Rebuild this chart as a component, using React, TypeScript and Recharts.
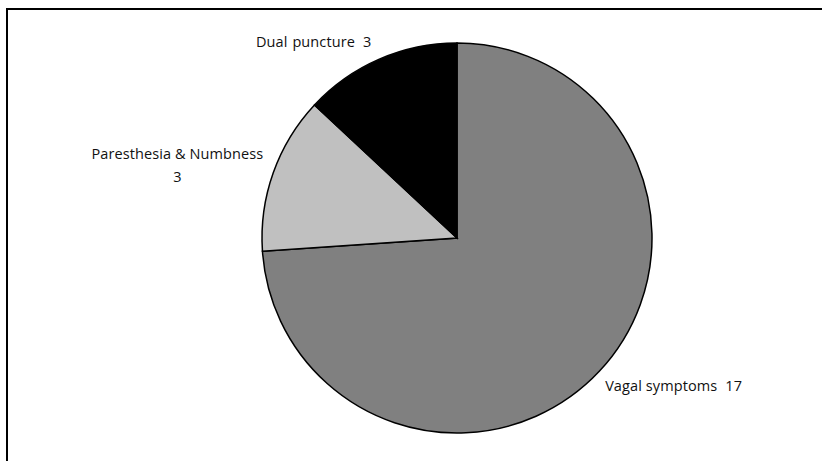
import React from "react";
import { Cell, Pie, PieChart } from "recharts";

const names = ["Vagal symptoms", "Paresthesia & Numbness", "Dual puncture"];
const counts = [17, 3, 3];
const fills = ["#808080", "#c0c0c0", "#000000"];

const data = names.map((name, i) => ({ name, value: counts[i] }));

const RADIAN = Math.PI / 180;

function renderLabel(props: any) {
  const { cx, cy, midAngle, outerRadius, name, value } = props;
  const r = outerRadius + 20;
  const x = cx + r * Math.cos(-midAngle * RADIAN);
  const y = cy + r * Math.sin(-midAngle * RADIAN);
  const style = { fontFamily: "'Open Sans', sans-serif", fontSize: 14.5, fill: "#111", letterSpacing: 0.1 };

  if (name === "Paresthesia & Numbness") {
    return (
      <text x={x - 77} y={y - 7} textAnchor="middle" style={style}>
        <tspan x={x - 77} dy="0">{name}</tspan>
        <tspan x={x - 77} dy="23">{value}</tspan>
      </text>
    );
  }
  const right = x > cx;
  return (
    <text
      x={right ? x - 9 : x}
      y={y}
      textAnchor={right ? "start" : "end"}
      dominantBaseline="central"
      style={style}
    >
      <tspan style={right ? undefined : { wordSpacing: 1 }}>{name}</tspan>
      <tspan dx={right ? 8 : 8}>{value}</tspan>
    </text>
  );
}

export default function App() {
  return (
    <div style={{ position: "fixed", left: 0, top: 0, width: 822, height: 461, background: "#fff" }}>
      <div
        style={{
          position: "absolute",
          left: 6,
          top: 8,
          width: 830,
          height: 470,
          borderLeft: "2.5px solid #000",
          borderTop: "2.5px solid #000",
        }}
      />
      <PieChart
        width={822}
        height={461}
        margin={{ top: 0, right: 0, bottom: 0, left: 0 }}
        style={{ position: "absolute", left: 0, top: 0 }}
      >
        <Pie
          data={data}
          dataKey="value"
          nameKey="name"
          cx={457}
          cy={238}
          outerRadius={195}
          startAngle={90}
          endAngle={-270}
          stroke="#000"
          strokeWidth={1.5}
          label={renderLabel}
          labelLine={false}
          isAnimationActive={false}
        >
          {data.map((d, i) => (
            <Cell key={d.name} fill={fills[i]} />
          ))}
        </Pie>
      </PieChart>
    </div>
  );
}
